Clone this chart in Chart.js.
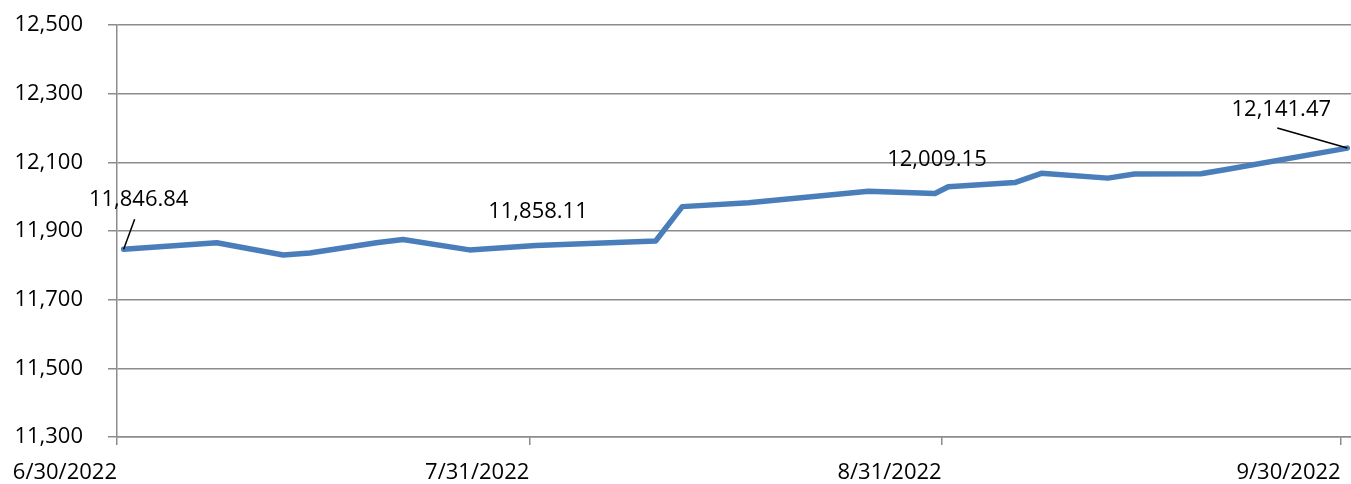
<!DOCTYPE html>
<html>
<head>
<meta charset="utf-8">
<script src="https://cdn.jsdelivr.net/npm/chart.js@4.4.1/dist/chart.umd.min.js"></script>
<style>
    html, body { margin: 0; padding: 0; background: #fff; }
    #wrap { width: 1351px; height: 484px; position: relative; }
</style>
</head>
<body>
<div id="wrap"><canvas id="chart"></canvas></div>
<script>
// ========================================
// DATA
// ========================================

const startDate = '2022-06-30';

const dates = [
    '2022-06-30', '2022-07-07', '2022-07-12', '2022-07-14', '2022-07-19',
    '2022-07-21', '2022-07-26', '2022-07-31', '2022-08-09', '2022-08-11',
    '2022-08-16', '2022-08-25', '2022-08-30', '2022-08-31', '2022-09-05',
    '2022-09-07', '2022-09-12', '2022-09-14', '2022-09-19', '2022-09-21',
    '2022-09-30'
];

const values = [
    11846.84, 11866, 11830, 11836, 11866,
    11875, 11845, 11858.11, 11871, 11971,
    11982, 12016, 12009.15, 12029, 12041,
    12068, 12054, 12066, 12067, 12080,
    12141.47
];

const tickDates = ['2022-06-30', '2022-07-31', '2022-08-31', '2022-09-30'];
const tickLabels = ['6/30/2022', '7/31/2022', '8/31/2022', '9/30/2022'];

const labelledDates = ['2022-06-30', '2022-07-31', '2022-08-30', '2022-09-30'];

const yMin = 11300;
const yMax = 12500;
const yStep = 200;

// ========================================
// HELPERS
// ========================================

const FONT = '"Open Sans", "Liberation Sans", sans-serif';
const GRID = '#8c8c8c';

function dayOffset(d) {
    return (Date.parse(d) - Date.parse(startDate)) / 86400000;
}

// points sit in the middle of their day slot (between tick marks)
const points = dates.map((d, i) => ({ x: dayOffset(d) + 0.5, y: values[i] }));

// label placement relative to its point
const labelPlacement = [
    { dx: 15, dy: -50, leader: [11, -30] },
    { dx: 2, dy: -34, leader: null },
    { dx: 2, dy: -34, leader: null },
    { dx: -66, dy: -38, leader: [-70, -20] }
];

const dataLabelPlugin = {
    id: 'dataLabels',
    afterDatasetsDraw(chart) {
        const ctx = chart.ctx;
        const meta = chart.getDatasetMeta(0);
        ctx.save();
        ctx.font = '22px ' + FONT;
        ctx.fillStyle = '#000';
        ctx.strokeStyle = '#000';
        ctx.lineWidth = 1.5;
        ctx.textAlign = 'center';
        ctx.textBaseline = 'middle';
        labelledDates.forEach((d, k) => {
            const i = dates.indexOf(d);
            const el = meta.data[i];
            const p = labelPlacement[k];
            if (p.leader) {
                ctx.beginPath();
                ctx.moveTo(el.x, el.y);
                ctx.lineTo(el.x + p.leader[0], el.y + p.leader[1]);
                ctx.stroke();
            }
            const txt = values[i].toLocaleString('en-US', { minimumFractionDigits: 2, maximumFractionDigits: 2 });
            ctx.fillText(txt, el.x + p.dx, el.y + p.dy);
        });
        ctx.restore();
    }
};

// ========================================
// CHART
// ========================================

new Chart(document.getElementById('chart'), {
    type: 'line',
    data: {
        datasets: [{
            data: points,
            borderColor: '#4a7ebb',
            borderWidth: 5.5,
            pointRadius: 0,
            tension: 0,
            borderJoinStyle: 'round',
            borderCapStyle: 'round'
        }]
    },
    options: {
        responsive: true,
        maintainAspectRatio: false,
        animation: false,
        layout: { padding: { top: 25, right: 0, left: 0, bottom: 0 } },
        plugins: {
            legend: { display: false },
            tooltip: { enabled: false }
        },
        scales: {
            x: {
                type: 'linear',
                min: 0,
                max: 92.78,
                afterBuildTicks: (scale) => {
                    scale.ticks = tickDates.map(d => ({ value: dayOffset(d) }));
                },
                afterFit: (scale) => {
                    scale.height = 47;
                    scale.paddingLeft = 0;
                    scale.paddingRight = 0;
                },
                grid: {
                    drawOnChartArea: false,
                    drawTicks: true,
                    tickLength: 8,
                    color: GRID,
                    lineWidth: 1.5
                },
                border: { display: true, color: GRID, width: 1.5 },
                ticks: {
                    autoSkip: false,
                    maxRotation: 0,
                    align: 'end',
                    padding: 15,
                    color: '#000',
                    font: { family: FONT, size: 22 },
                    callback: (v, i) => tickLabels[i]
                }
            },
            y: {
                min: yMin,
                max: yMax,
                afterFit: (scale) => {
                    scale.width = 117;
                    scale.paddingTop = 0;
                    scale.paddingBottom = 0;
                },
                grid: {
                    color: GRID,
                    lineWidth: 1.5,
                    tickLength: 9
                },
                border: { display: true, color: GRID, width: 1.5 },
                ticks: {
                    stepSize: yStep,
                    padding: 25,
                    color: '#000',
                    font: { family: FONT, size: 22 },
                    callback: (v) => v.toLocaleString('en-US')
                }
            }
        }
    },
    plugins: [dataLabelPlugin]
});
</script>
</body>
</html>
